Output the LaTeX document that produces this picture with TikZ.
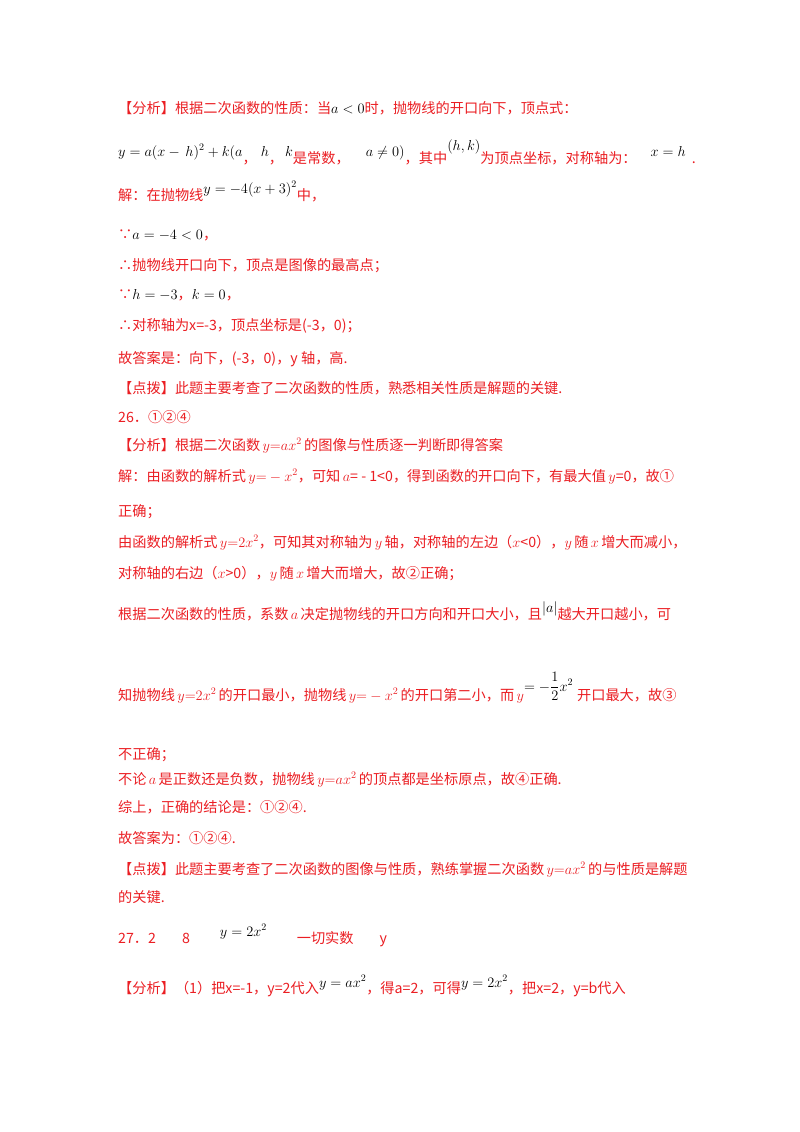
\documentclass[tikz,border=0pt]{standalone}
\usepackage{fontspec}
\setmainfont{Noto Sans CJK SC}
\definecolor{rd}{RGB}{235,30,35}
\begin{document}
\begin{tikzpicture}[x=1pt,y=-1pt,every node/.style={anchor=base west,inner sep=0pt,font=\fontsize{14.2}{17}\selectfont,text=rd}]
\useasboundingbox[fill=white](0,0) rectangle (800,1132);
\node (l1) at (118,113) {【分析】根据二次函数的性质：当\textcolor{black}{$a<0$}时，抛物线的开口向下，顶点式：};
\node (l2) at (118,156) {\textcolor{black}{$y=a(x-\,h)^2+k(a$}\raisebox{-7pt}{，}\hspace{4pt}\textcolor{black}{$h$}\raisebox{-7pt}{，}\hspace{2pt}\textcolor{black}{$k$}\raisebox{-7pt}{是常数，}\hspace{16pt}\textcolor{black}{$a\neq0)$}\raisebox{-7pt}{，其中}\raisebox{6pt}{\textcolor{black}{$(h,k)$}}\raisebox{-7pt}{为顶点坐标，对称轴为：}\hspace{14pt}\textcolor{black}{$x=h$}\hspace{6pt}\raisebox{-7pt}{.}};
\node (l3) at (118,200) {解：在抛物线\raisebox{7pt}{\textcolor{black}{$y=-4(x+3)^2$}}中，};
\node (l4) at (118,239) {∵\textcolor{black}{$a=-4<0$}，};
\node (l5) at (118,270) {∴抛物线开口向下，顶点是图像的最高点；};
\node (l6) at (118,299) {∵\textcolor{black}{$h=-3$}，\textcolor{black}{$k=0$}，};
\node (l7) at (118,330) {∴对称轴为x=-3，顶点坐标是(-3，0)；};
\node (l8) at (118,363) {故答案是：向下，(-3，0)，y 轴，高.};
\node (l9) at (118,393) {【点拨】此题主要考查了二次函数的性质，熟悉相关性质是解题的关键.};
\node (l10) at (118,422) {26．①②④};
\node (l11) at (118,450) {【分析】根据二次函数\,$y{=}ax^2$\,的图像与性质逐一判断即得答案};
\node (l12) at (118,481) {解：由函数的解析式\,$y{=}-x^2$，可知\,$a$= - 1<0，得到函数的开口向下，有最大值\,$y$=0，故①};
\node (l13) at (118,516) {正确；};
\node (l14) at (118,547) {由函数的解析式\,$y{=}2x^2$，可知其对称轴为\,$y$\,轴，对称轴的左边（$x$<0），$y$\,随\,$x$\,增大而减小，};
\node (l15) at (118,578) {对称轴的右边（$x$>0），$y$\,随\,$x$\,增大而增大，故②正确；};
\node (l16) at (118,619) {根据二次函数的性质，系数\,$a$\,决定抛物线的开口方向和开口大小，且\raisebox{7pt}{\textcolor{black}{$\left|a\right|$}}越大开口越小，可};
\node (l17) at (118,700) {知抛物线\,$y{=}2x^2$\,的开口最小，抛物线\,$y{=}-x^2$\,的开口第二小，而\,$y$\raisebox{9pt}{\textcolor{black}{$\displaystyle=-\frac{1}{2}x^2$}}\hspace{4pt}开口最大，故③};
\node (l18) at (118,759) {不正确；};
\node (l19) at (118,784) {不论\,$a$\,是正数还是负数，抛物线\,$y{=}ax^2$\,的顶点都是坐标原点，故④正确.};
\node (l20) at (118,812) {综上，正确的结论是：①②④.};
\node (l21) at (118,843) {故答案为：①②④.};
\node (l22) at (118,874) {【点拨】此题主要考查了二次函数的图像与性质，熟练掌握二次函数\,$y{=}ax^2$\,的与性质是解题};
\node (l23) at (118,902) {的关键.};
\node (l24) at (118,943) {27．2\hspace{26pt}8\hspace{30pt}\raisebox{7pt}{\textcolor{black}{$y=2x^2$}}\hspace{30pt}一切实数\hspace{26pt}y};
\node (l25) at (118,993) {【分析】（1）把x=-1，y=2代入\raisebox{6pt}{\textcolor{black}{$y=ax^2$}}，得a=2，可得\raisebox{6pt}{\textcolor{black}{$y=2x^2$}}，把x=2，y=b代入};
\end{tikzpicture}
\end{document}
